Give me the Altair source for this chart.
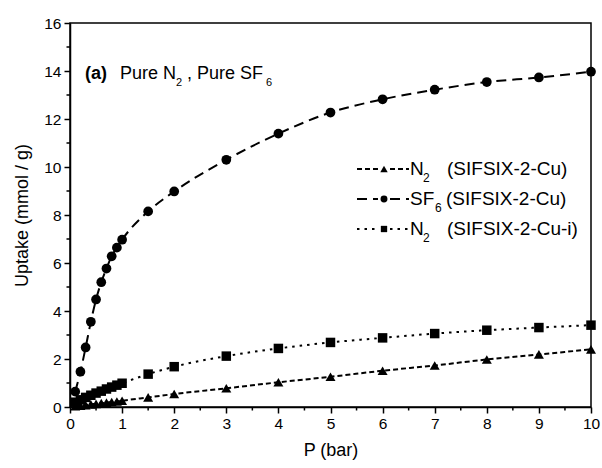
import altair as alt
import pandas as pd

# ---------------- data ----------------
pressure = [0.1, 0.2, 0.3, 0.4, 0.5, 0.6, 0.7, 0.8, 0.9, 1.0,
            1.5, 2, 3, 4, 5, 6, 7, 8, 9, 10]
n2_cu = [0.03, 0.06, 0.08, 0.11, 0.13, 0.16, 0.18, 0.21, 0.23, 0.26,
         0.40, 0.54, 0.78, 1.03, 1.26, 1.51, 1.73, 1.98, 2.19, 2.40]
sf6_cu = [0.64, 1.47, 2.48, 3.55, 4.48, 5.20, 5.77, 6.28, 6.64, 6.97,
          8.15, 8.98, 10.30, 11.39, 12.27, 12.82, 13.22, 13.54, 13.73, 13.97]
n2_cui = [0.20, 0.30, 0.40, 0.49, 0.58, 0.66, 0.75, 0.83, 0.91, 0.99,
          1.37, 1.68, 2.12, 2.44, 2.69, 2.88, 3.06, 3.20, 3.31, 3.41]

series_names = ["N2 (SIFSIX-2-Cu)", "SF6 (SIFSIX-2-Cu)", "N2 (SIFSIX-2-Cu-i)"]
legend_main = ["N", "SF", "N"]
legend_sub = ["2", "6", "2"]
legend_suffix = ["(SIFSIX-2-Cu)", "(SIFSIX-2-Cu)", "(SIFSIX-2-Cu-i)"]

x_major = [0, 1, 2, 3, 4, 5, 6, 7, 8, 9, 10]
x_minor = [0.5, 1.5, 2.5, 3.5, 4.5, 5.5, 6.5, 7.5, 8.5, 9.5]
y_major = [0, 2, 4, 6, 8, 10, 12, 14, 16]
y_minor = [1, 3, 5, 7, 9, 11, 13, 15]

# ---------------- styles ----------------
FONT = "Liberation Sans"
W, H = 521, 384
dashes = [[5, 3], [10, 6], [2.5, 5]]
shapes = ["triangle-up", "circle", "square"]
sizes = [100, 90, 72]
leg_sizes = [55, 48, 40]

rows = []
for name, vals in zip(series_names, [n2_cu, sf6_cu, n2_cui]):
    for p, u in zip(pressure, vals):
        rows.append({"series": name, "P": p, "U": u})
df = pd.DataFrame(rows)

xscale = alt.Scale(domain=[0, 10], nice=False, zero=False)
yscale = alt.Scale(domain=[0, 16], nice=False, zero=False)

xaxis = alt.Axis(values=x_major, title="P (bar)", tickSize=6, tickWidth=1.5,
                 domainWidth=1.5, labelFontSize=15.5, labelPadding=3,
                 titleFontSize=18, titleFontWeight="normal", titlePadding=10,
                 labelFlush=False)
yaxis = alt.Axis(values=y_major, title="Uptake (mmol / g)", tickSize=6, tickWidth=1.5,
                 domainWidth=1.5, labelFontSize=15.5, labelPadding=3,
                 titleFontSize=18, titleFontWeight="normal", titlePadding=12,
                 labelFlush=False)

X = alt.X("P:Q", scale=xscale, axis=xaxis, title="P (bar)")
Y = alt.Y("U:Q", scale=yscale, axis=yaxis, title="Uptake (mmol / g)")

lines = alt.Chart(df).mark_line(strokeWidth=2, color="black", interpolate="monotone").encode(
    x=X, y=Y,
    strokeDash=alt.StrokeDash("series:N", scale=alt.Scale(domain=series_names, range=dashes), legend=None),
    detail="series:N",
)
points = alt.Chart(df).mark_point(filled=True, color="black", opacity=1, strokeWidth=0).encode(
    x=X, y=Y,
    shape=alt.Shape("series:N", scale=alt.Scale(domain=series_names, range=shapes), legend=None),
    size=alt.Size("series:N", scale=alt.Scale(domain=series_names, range=sizes), legend=None),
)

xminor = alt.Chart(pd.DataFrame({"P": x_minor})).mark_rule(color="black", strokeWidth=1.5).encode(
    x=alt.X("P:Q", scale=xscale, title="P (bar)"), y=alt.value(H), y2=alt.value(H + 3.5))
yminor = alt.Chart(pd.DataFrame({"U": y_minor})).mark_rule(color="black", strokeWidth=1.5).encode(
    y=alt.Y("U:Q", scale=yscale, title="Uptake (mmol / g)"), x=alt.value(0), x2=alt.value(-3.5))

layers = [lines, points, xminor, yminor]

dummy = pd.DataFrame({"a": [0]})

# ---------------- legend (manual) ----------------
leg_y0, leg_dy = 146, 30
line_x0, mark_x, line_x1 = 287, 314, 339
text_x = 340
sub_x = [353, 365, 353]
suffix_x = [377, 376, 377]
for i in range(3):
    yy = leg_y0 + leg_dy * i
    for xa, xb in [(line_x0, mark_x - 6), (mark_x + 6, line_x1)]:
        layers.append(alt.Chart(dummy).mark_rule(color="black", strokeWidth=2, strokeDash=dashes[i]).encode(
            x=alt.value(xa), x2=alt.value(xb), y=alt.value(yy)))
    layers.append(alt.Chart(dummy).mark_point(filled=True, color="black", opacity=1, strokeWidth=0,
                                              shape=shapes[i], size=leg_sizes[i]).encode(
        x=alt.value(mark_x), y=alt.value(yy)))
    layers.append(alt.Chart(dummy).mark_text(align="left", baseline="middle", font=FONT, fontSize=19,
                                             color="black").encode(
        x=alt.value(text_x), y=alt.value(yy), text=alt.value(legend_main[i])))
    layers.append(alt.Chart(dummy).mark_text(align="left", baseline="middle", font=FONT, fontSize=12,
                                             color="black").encode(
        x=alt.value(sub_x[i]), y=alt.value(yy + 9), text=alt.value(legend_sub[i])))
    layers.append(alt.Chart(dummy).mark_text(align="left", baseline="middle", font=FONT, fontSize=19,
                                             color="black").encode(
        x=alt.value(suffix_x[i]), y=alt.value(yy), text=alt.value(legend_suffix[i])))

# ---------------- annotation ----------------
ann_y = 51
ann = [
    ("(a)", 15, ann_y, 18, "bold"),
    ("Pure N", 50, ann_y, 18, "normal"),
    ("2", 106, ann_y + 9, 11, "normal"),
    (", Pure SF", 117, ann_y, 18, "normal"),
    ("6", 196, ann_y + 9, 11, "normal"),
]
for txt, ax, ay, fs, fw in ann:
    layers.append(alt.Chart(dummy).mark_text(align="left", baseline="middle", font=FONT, fontSize=fs,
                                             fontWeight=fw, color="black").encode(
        x=alt.value(ax), y=alt.value(ay), text=alt.value(txt)))

chart = alt.layer(*layers).properties(
    width=W, height=H,
    padding={"left": 70, "top": 23, "right": 11, "bottom": 61},
    autosize=alt.AutoSizeParams(type="none"),
    background="white",
).configure_view(stroke="black", strokeWidth=1.5).configure_axis(
    domainColor="black", tickColor="black", labelColor="black", titleColor="black",
    labelFont=FONT, titleFont=FONT, grid=False,
)

chart.save("out.html", embed_options={"renderer": "svg", "actions": False})
